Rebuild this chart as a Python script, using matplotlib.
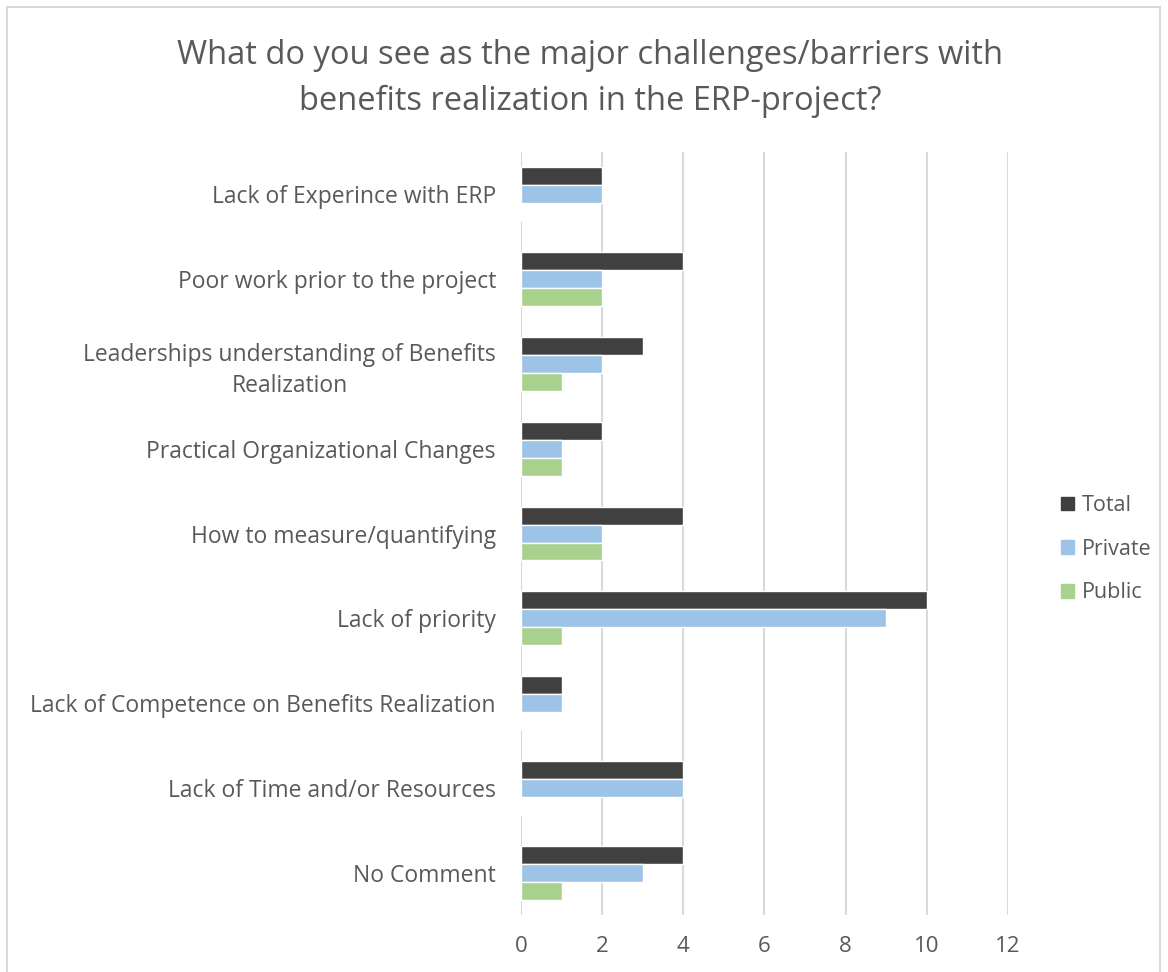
import numpy as np
import matplotlib
matplotlib.use("Agg")
import matplotlib.pyplot as plt
from matplotlib.patches import Rectangle, Patch

# Dados do gráfico (de cima para baixo)
categories = [
    "Lack of Experince with ERP",
    "Poor work prior to the project",
    "Leaderships understanding of Benefits\nRealization",
    "Practical Organizational Changes",
    "How to measure/quantifying",
    "Lack of priority",
    "Lack of Competence on Benefits Realization",
    "Lack of Time and/or Resources",
    "No Comment",
]
total = [2, 4, 3, 2, 4, 10, 1, 4, 4]
private = [2, 2, 2, 1, 2, 9, 1, 4, 3]
public = [0, 2, 1, 1, 2, 1, 0, 0, 1]
series_names = ["Total", "Private", "Public"]
colors = ["#404040", "#9dc3e6", "#a9d18e"]
xticks = [0, 2, 4, 6, 8, 10, 12]

plt.rcParams["font.family"] = ["Open Sans", "DejaVu Sans"]
text_color = "#595959"

fig = plt.figure(figsize=(11.68, 9.72), dpi=100)
ax = fig.add_axes([0.446, 0.0586, 0.417, 0.785])

y = np.arange(len(categories))
h = 0.212
for i, vals in enumerate([total, private, public]):
    ax.barh(y + (i - 1) * h, vals, height=h, color=colors[i],
            edgecolor="white", linewidth=1, label=series_names[i], zorder=3)

ax.set_ylim(len(categories) - 0.5, -0.5)
ax.set_xlim(0, 12)
ax.set_xticks(xticks)
ax.set_yticks(y)
ax.set_yticklabels(categories)
for lbl in ax.get_yticklabels():
    lbl.set_multialignment("center")
    lbl.set_linespacing(1.4)
ax.tick_params(axis="y", length=0, pad=18, labelsize=16.5, labelcolor=text_color)
ax.tick_params(axis="x", length=0, pad=15, labelsize=16, labelcolor=text_color)
ax.grid(axis="x", color="#d9d9d9", linewidth=1.5, zorder=0)
for s in ax.spines.values():
    s.set_visible(False)

fig.text(0.505, 0.919, "What do you see as the major challenges/barriers with\nbenefits realization in the ERP-project?",
         ha="center", va="center", fontsize=23.5, color=text_color, linespacing=1.52)

handles = [Patch(color=c) for c in colors]
leg = fig.legend(handles, series_names, loc="center left", bbox_to_anchor=(0.892, 0.435),
                 frameon=False, fontsize=15.5, handlelength=0.6, handleheight=0.6,
                 handletextpad=0.35, labelspacing=1.05, labelcolor=text_color)

# moldura do gráfico
fig.patches.append(Rectangle((7 / 1168, -0.02), 1153 / 1168, 1 - 7 / 972 + 0.02,
                             transform=fig.transFigure, fill=False,
                             edgecolor="#d9d9d9", linewidth=1.5))

fig.savefig("out.png", dpi=100)
